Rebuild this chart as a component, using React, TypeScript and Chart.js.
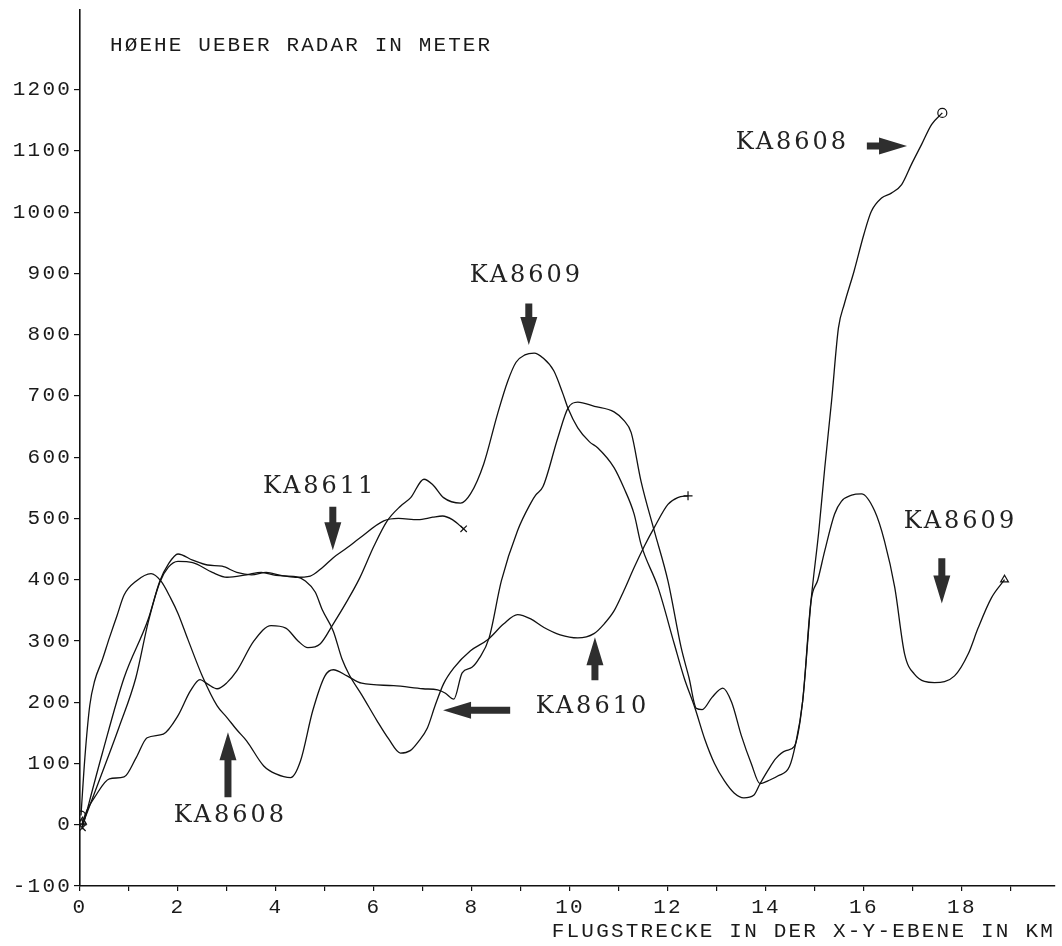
import React, { useEffect, useRef } from "react";
import { Chart, registerables } from "chart.js";

Chart.register(...registerables);

// ---- Series data (x in km, y in m) ----
const ka8608X = [0.02, 0.1, 0.2, 0.3, 0.45, 0.6, 0.75, 0.9, 1.15, 1.45, 1.65, 1.85, 2.0, 2.2, 2.5, 2.8, 3.0, 3.2, 3.4, 3.75, 4.0, 4.3, 4.5, 4.75, 5.0, 5.17, 5.45, 5.75, 6.4, 7.0, 7.3, 7.45, 7.63, 7.8, 8.0, 8.15, 8.35, 8.6, 8.93, 9.2, 9.3, 9.45, 9.75, 9.96, 10.16, 10.5, 10.9, 11.1, 11.25, 11.45, 11.72, 12.0, 12.27, 12.43, 12.58, 12.7, 12.9, 13.12, 13.3, 13.5, 13.7, 13.88, 14.05, 14.25, 14.48, 14.6, 14.75, 14.92, 15.08, 15.2, 15.34, 15.48, 15.6, 15.8, 16.0, 16.15, 16.36, 16.56, 16.77, 16.97, 17.18, 17.38, 17.6];
const ka8608Y = [15, 110, 195, 235, 268, 305, 340, 375, 398, 410, 398, 370, 345, 303, 242, 194, 175, 155, 137, 96, 83, 77, 104, 186, 243, 253, 243, 231, 227, 222, 220, 215, 205, 248, 257, 272, 305, 398, 480, 525, 538, 552, 631, 680, 690, 683, 674, 660, 640, 561, 480, 398, 289, 240, 190, 188, 208, 223, 200, 145, 100, 67, 72, 80, 95, 130, 202, 365, 480, 582, 692, 811, 850, 904, 964, 1001, 1023, 1031, 1045, 1078, 1111, 1143, 1162];

const ka8609X = [0.05, 0.15, 0.3, 0.6, 0.9, 1.15, 1.37, 1.7, 2.0, 2.25, 2.45, 2.6, 2.8, 3.0, 3.2, 3.55, 3.9, 4.2, 4.45, 4.65, 4.9, 5.17, 5.45, 5.71, 6.0, 6.27, 6.54, 6.75, 7.02, 7.2, 7.42, 7.77, 7.97, 8.24, 8.52, 8.73, 8.9, 9.08, 9.27, 9.45, 9.67, 9.85, 9.96, 10.16, 10.4, 10.57, 10.9, 11.1, 11.31, 11.45, 11.8, 12.13, 12.33, 12.55, 12.75, 12.95, 13.15, 13.35, 13.55, 13.75, 13.88, 14.05, 14.2, 14.41, 14.58, 14.75, 14.92, 15.06, 15.2, 15.4, 15.54, 15.75, 15.95, 16.22, 16.42, 16.63, 16.83, 17.03, 17.44, 17.85, 18.13, 18.33, 18.6, 18.87];
const ka8609Y = [5, 25, 45, 75, 78, 110, 142, 148, 178, 218, 237, 230, 222, 232, 251, 300, 325, 321, 300, 289, 295, 328, 365, 403, 455, 496, 520, 534, 564, 555, 534, 525, 540, 589, 670, 724, 755, 767, 770, 762, 741, 705, 680, 648, 625, 615, 583, 550, 507, 458, 387, 295, 240, 191, 140, 100, 72, 52, 44, 48, 67, 90, 108, 121, 128, 202, 365, 400, 447, 507, 528, 538, 540, 512, 463, 387, 279, 246, 232, 243, 279, 321, 370, 400];

const ka8610X = [0.05, 0.5, 0.8, 1.14, 1.39, 1.63, 1.8, 2.0, 2.3, 2.7, 3.0, 3.4, 3.7, 4.0, 4.4, 4.6, 4.8, 4.95, 5.17, 5.35, 5.5, 5.75, 6.06, 6.3, 6.54, 6.74, 6.9, 7.09, 7.25, 7.42, 7.63, 7.97, 8.32, 8.65, 8.93, 9.2, 9.47, 9.8, 10.16, 10.49, 10.7, 10.9, 11.1, 11.31, 11.52, 11.72, 12.0, 12.2, 12.41];
const ka8610Y = [0, 95, 160, 240, 330, 396, 420, 430, 428, 412, 404, 408, 412, 407, 405, 398, 380, 350, 316, 270, 244, 212, 170, 140, 117, 121, 135, 158, 195, 230, 256, 284, 302, 328, 343, 336, 322, 310, 305, 312, 328, 349, 382, 420, 455, 485, 523, 534, 537];

const ka8611X = [0.05, 0.45, 0.9, 1.39, 1.63, 1.8, 2.0, 2.3, 2.6, 2.9, 3.2, 3.5, 3.8, 4.1, 4.4, 4.7, 4.95, 5.17, 5.45, 5.71, 6.2, 6.5, 6.9, 7.2, 7.4, 7.6, 7.83];
const ka8611Y = [-5, 115, 240, 335, 398, 425, 442, 432, 424, 422, 412, 408, 412, 407, 404, 406, 420, 436, 452, 468, 496, 500, 498, 502, 504, 498, 483];

const seriesNames = ["KA8608", "KA8609", "KA8610", "KA8611"];

// ---- Axis ticks ----
const xTickValues = [0, 1, 2, 3, 4, 5, 6, 7, 8, 9, 10, 11, 12, 13, 14, 15, 16, 17, 18, 19];
const xLabelledTicks = [0, 2, 4, 6, 8, 10, 12, 14, 16, 18];
const yTickValues = [-100, 0, 100, 200, 300, 400, 500, 600, 700, 800, 900, 1000, 1100, 1200];

const yAxisTitle = "HØEHE UEBER RADAR IN METER";
const xAxisTitle = "FLUGSTRECKE IN DER X-Y-EBENE IN KM";

// ---- Annotations (data coordinates) ----
const labelTexts = ["KA8611", "KA8609", "KA8608", "KA8610", "KA8608", "KA8609"];
const labelX = [4.86, 9.08, 3.04, 10.43, 14.51, 17.94];
const labelY = [552, 896, 14, 193, 1113, 494];

const arrowTailX = [5.16, 9.16, 3.02, 8.78, 10.51, 16.06, 17.59];
const arrowTailY = [519, 851, 45, 187, 236, 1108, 435];
const arrowTipX = [5.16, 9.16, 3.02, 7.41, 10.51, 16.88, 17.59];
const arrowTipY = [448, 783, 151, 187, 306, 1108, 361];

const PLOT_FONT = "'Liberation Mono', 'DejaVu Sans Mono', monospace";
const LABEL_FONT = "'DejaVu Serif', serif";
const INK = "#1a1a1a";

function drawArrow(ctx: CanvasRenderingContext2D, x1: number, y1: number, x2: number, y2: number) {
  const dx = x2 - x1;
  const dy = y2 - y1;
  const len = Math.hypot(dx, dy);
  const ux = dx / len;
  const uy = dy / len;
  const nx = -uy;
  const ny = ux;
  const headLen = Math.min(28, len * 0.7);
  const headHalf = 8.5;
  const shaftHalf = 3.5;
  const bx = x2 - ux * headLen;
  const by = y2 - uy * headLen;
  ctx.beginPath();
  ctx.moveTo(x1 + nx * shaftHalf, y1 + ny * shaftHalf);
  ctx.lineTo(bx + nx * shaftHalf, by + ny * shaftHalf);
  ctx.lineTo(bx + nx * headHalf, by + ny * headHalf);
  ctx.lineTo(x2, y2);
  ctx.lineTo(bx - nx * headHalf, by - ny * headHalf);
  ctx.lineTo(bx - nx * shaftHalf, by - ny * shaftHalf);
  ctx.lineTo(x1 - nx * shaftHalf, y1 - ny * shaftHalf);
  ctx.closePath();
  ctx.fillStyle = "#2e2e2e";
  ctx.fill();
}

const spacingPlugin = {
  id: "plotterSpacing",
  beforeDraw(chart: any) {
    chart.ctx.letterSpacing = "2.2px";
  },
};

const annotationPlugin = {
  id: "annotations",
  afterDatasetsDraw(chart: any) {
    const ctx: CanvasRenderingContext2D = chart.ctx;
    const xs = chart.scales.x;
    const ys = chart.scales.y;
    const area = chart.chartArea;
    ctx.save();
    // axis title at top-left
    (ctx as any).letterSpacing = "2.1px";
    ctx.font = `21px ${PLOT_FONT}`;
    ctx.fillStyle = INK;
    ctx.textAlign = "left";
    ctx.textBaseline = "middle";
    ctx.fillText(yAxisTitle, area.left + 30, area.top + 35);

    // arrows
    for (let i = 0; i < arrowTailX.length; i++) {
      drawArrow(
        ctx,
        xs.getPixelForValue(arrowTailX[i]),
        ys.getPixelForValue(arrowTailY[i]),
        xs.getPixelForValue(arrowTipX[i]),
        ys.getPixelForValue(arrowTipY[i])
      );
    }
    // labels
    (ctx as any).letterSpacing = "3px";
    ctx.font = `24px ${LABEL_FONT}`;
    ctx.textAlign = "center";
    ctx.textBaseline = "middle";
    ctx.fillStyle = "#222";
    for (let i = 0; i < labelTexts.length; i++) {
      ctx.fillText(labelTexts[i], xs.getPixelForValue(labelX[i]) + 1.5, ys.getPixelForValue(labelY[i]));
    }
    ctx.restore();
  },
};

function makeSeries(xsArr: number[], ysArr: number[], name: string, style: string) {
  const last = xsArr.length - 1;
  return {
    label: name,
    data: xsArr.map((x, i) => ({ x, y: ysArr[i] })),
    borderColor: "#111",
    borderWidth: 1.3,
    fill: false,
    cubicInterpolationMode: "monotone" as const,
    pointStyle: style,
    pointRadius: (c: any) => (c.dataIndex === 0 || c.dataIndex === last ? 4.5 : 0),
    pointBorderColor: "#111",
    pointBackgroundColor: "rgba(0,0,0,0)",
    pointBorderWidth: 1.2,
  };
}

export default function App() {
  const canvasRef = useRef<HTMLCanvasElement | null>(null);

  useEffect(() => {
    const canvas = canvasRef.current;
    if (!canvas) return;
    const tickFont = { family: PLOT_FONT, size: 21 };
    const chart = new Chart(canvas, {
      type: "line",
      data: {
        datasets: [
          makeSeries(ka8608X, ka8608Y, seriesNames[0], "circle"),
          makeSeries(ka8609X, ka8609Y, seriesNames[1], "triangle"),
          makeSeries(ka8610X, ka8610Y, seriesNames[2], "cross"),
          makeSeries(ka8611X, ka8611Y, seriesNames[3], "crossRot"),
        ] as any,
      },
      options: {
        responsive: false,
        animation: false,
        devicePixelRatio: 1,
        layout: { padding: { left: 0, right: 7, top: 10, bottom: 0 } },
        plugins: {
          legend: { display: false },
          tooltip: { enabled: false },
        },
        scales: {
          x: {
            type: "linear",
            min: 0,
            max: 19.9,
            afterBuildTicks: (scale: any) => {
              scale.ticks = xTickValues.map((v) => ({ value: v }));
            },
            afterFit: (scale: any) => {
              scale.height = 60;
              scale.paddingLeft = 0;
              scale.paddingRight = 0;
            },
            ticks: {
              autoSkip: false,
              maxRotation: 0,
              minRotation: 0,
              padding: 4,
              color: INK,
              font: tickFont,
              callback: (v: any) => (xLabelledTicks.includes(Number(v)) ? String(v) : ""),
            },
            grid: { drawOnChartArea: false, drawTicks: true, tickLength: 5, color: "#111", lineWidth: 1.2 },
            border: { display: true, color: "#111", width: 1.6 },
            title: {
              display: true,
              text: xAxisTitle,
              align: "end",
              color: INK,
              font: tickFont,
              padding: { top: 0, bottom: 2 },
            },
          },
          y: {
            type: "linear",
            min: -100,
            max: 1330,
            afterBuildTicks: (scale: any) => {
              scale.ticks = yTickValues.map((v) => ({ value: v }));
            },
            afterFit: (scale: any) => {
              scale.width = 80;
              scale.paddingTop = 0;
              scale.paddingBottom = 0;
            },
            ticks: {
              autoSkip: false,
              padding: 2,
              color: INK,
              font: tickFont,
              callback: (v: any) => String(v),
            },
            grid: { drawOnChartArea: false, drawTicks: true, tickLength: 6, color: "#111", lineWidth: 1.2 },
            border: { display: true, color: "#111", width: 1.6 },
          },
        },
      } as any,
      plugins: [spacingPlugin, annotationPlugin],
    });
    return () => chart.destroy();
  }, []);

  return (
    <div style={{ position: "fixed", left: 0, top: 0, width: 1062, height: 946, background: "#fff" }}>
      <canvas ref={canvasRef} width={1062} height={946} style={{ width: 1062, height: 946, display: "block" }} />
    </div>
  );
}
